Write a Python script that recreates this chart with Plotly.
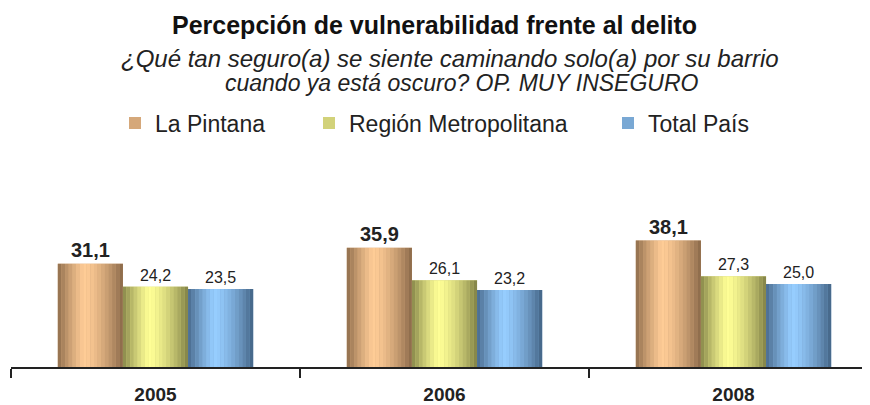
import plotly.graph_objects as go

years = ["2005", "2006", "2008"]
la_pintana = [31.1, 35.9, 38.1]
region_metropolitana = [24.2, 26.1, 27.3]
total_pais = [23.5, 23.2, 25.0]
series_names = ["La Pintana", "Región Metropolitana", "Total País"]

series_values = [la_pintana, region_metropolitana, total_pais]
light = [(255, 204, 150), (255, 255, 150), (150, 205, 255)]
dark = [(115, 85, 58), (105, 105, 55), (52, 80, 110)]

FONT = "Liberation Sans"
group_w = 0.676
bar_w = group_w / 3
N = 18

# page has an 8px body margin; plot area geometry in figure pixels
PLOT_TOP, PLOT_BOTTOM = 193, 359
# left edge (figure px) of each legend box
legend_x = [107, 301, 600]
legend_names = ["legend", "legend2", "legend3"]

fig = go.Figure()


def mix(c1, c2, t):
    return "rgb(%d,%d,%d)" % tuple(round(a + (b - a) * t) for a, b in zip(c1, c2))


for i, (name, vals) in enumerate(zip(series_names, series_values)):
    off = -group_w / 2 + i * bar_w
    fig.add_trace(go.Bar(
        x=years, y=vals, name=name, width=bar_w, offset=off,
        legend=legend_names[i],
        marker=dict(color=mix(light[i], dark[i], 0.3), line=dict(width=0)),
        texttemplate="%{y:.1f}", textposition="outside",
        textfont=dict(family=FONT, size=20 if i == 0 else 16,
                      color="#222", weight="bold" if i == 0 else "normal"),
        cliponaxis=False,
    ))
    sw = bar_w / N
    for k in range(N):
        p = (k + 0.5) / N
        if p < 0.4:
            t = ((0.4 - p) / 0.4) ** 1.2 * 0.8
        else:
            t = ((p - 0.4) / 0.6) ** 1.5 * 0.85
        fig.add_trace(go.Bar(
            x=years, y=vals, width=sw, offset=off + k * sw,
            marker=dict(color=mix(light[i], dark[i], t), line=dict(width=0)),
            showlegend=False, hoverinfo="skip",
        ))

legend_common = dict(orientation="h", xanchor="left", xref="container",
                     yref="container", y=1 - 115 / 405, yanchor="middle",
                     font=dict(size=23, color="#222", family=FONT),
                     itemwidth=30, bgcolor="rgba(0,0,0,0)")

fig.update_layout(
    width=870, height=405,
    margin=dict(l=3, r=0, t=PLOT_TOP, b=405 - PLOT_BOTTOM, autoexpand=False),
    barmode="overlay",
    separators=",.",
    plot_bgcolor="white", paper_bgcolor="white",
    font=dict(family=FONT, color="#222"),
    showlegend=True,
    legend=dict(x=legend_x[0] / 870, **legend_common),
    legend2=dict(x=legend_x[1] / 870, **legend_common),
    legend3=dict(x=legend_x[2] / 870, **legend_common),
    xaxis=dict(
        type="category", range=[-0.5, 2.5], automargin=False,
        showline=True, linecolor="#222", linewidth=1.5,
        ticks="outside", tickson="boundaries", ticklen=9, tickcolor="#222",
        tickwidth=1.5, ticklabelstandoff=9,
        tickfont=dict(size=19, color="#222", weight="bold", family=FONT),
        showgrid=False,
    ),
    yaxis=dict(range=[0, 50], visible=False, showgrid=False),
)

h = PLOT_BOTTOM - PLOT_TOP


def py(y):
    return (PLOT_BOTTOM - y) / h


fig.add_annotation(text="<b>Percepción de vulnerabilidad frente al delito</b>",
                   x=0.488, xref="paper", xanchor="center",
                   y=py(17), yref="paper", yanchor="middle", showarrow=False,
                   font=dict(family=FONT, size=25, color="#111"))
fig.add_annotation(text="<i>¿Qué tan seguro(a) se siente caminando solo(a) por su barrio</i>",
                   x=0.506, xref="paper", xanchor="center",
                   y=py(50), yref="paper", yanchor="middle", showarrow=False,
                   font=dict(family=FONT, size=24, color="#222"))
fig.add_annotation(text="<i>cuando ya está oscuro? OP. MUY INSEGURO</i>",
                   x=0.52, xref="paper", xanchor="center",
                   y=py(75), yref="paper", yanchor="middle", showarrow=False,
                   font=dict(family=FONT, size=23, color="#222"))

fig.write_html("out.html")
